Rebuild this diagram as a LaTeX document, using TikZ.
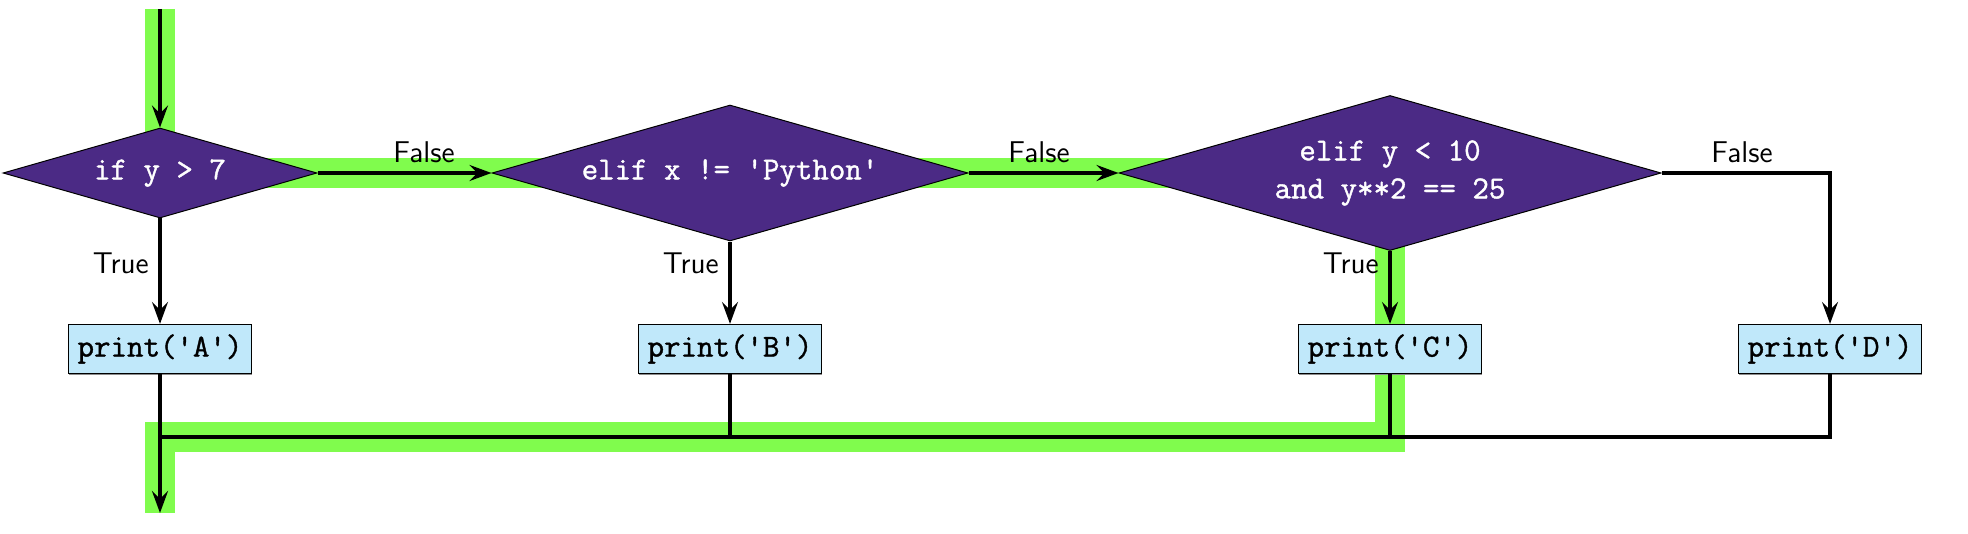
\documentclass[tikz,border=0pt]{standalone}
\usepackage{fontspec}
\usetikzlibrary{shapes.geometric,arrows.meta,backgrounds,shadows}
\newfontfamily\codefont[Ligatures=TeXOff,FakeBold=1.2]{Latin Modern Mono}
\definecolor{hl}{RGB}{128,252,77}
\definecolor{decfill}{RGB}{75,42,133}
\definecolor{actfill}{RGB}{192,232,250}
\begin{document}
\begin{tikzpicture}[x=0.5pt,y=-0.5pt,
  decision/.style={shape=diamond, draw=black, line width=0.5pt, fill=decfill, text=white,
    inner sep=0pt, aspect=3.5, align=center, font=\codefont\fontsize{16}{19}\selectfont},
  action/.style={draw=black, line width=0.6pt, fill=actfill, minimum height=24.5pt,
    inner xsep=4.5pt, inner ysep=0pt, font=\codefont\fontsize{16}{19}\selectfont,
    drop shadow={shadow xshift=0.4pt, shadow yshift=-0.6pt, fill=black!45, opacity=1}},
  flow/.style={line width=1.6pt, -{Stealth[length=11pt,width=8pt,inset=4pt]}},
  plain/.style={line width=1.6pt},
  lbl/.style={font=\sffamily\fontsize{15}{18}\selectfont, inner sep=0pt},
  highlight/.style={line width=15pt, draw=hl, line join=miter, line cap=butt}]
\useasboundingbox (0,0) rectangle (1968,534);

% decisions
\node[decision, minimum width=157pt, minimum height=45pt] (d1) at (160,173) {if y > 7};
\node[decision, minimum width=238pt, minimum height=68pt] (d2) at (730,173) {elif x != 'Python'};
\node[decision, minimum width=271pt, minimum height=77.5pt] (d3) at (1390,173) {elif y < 10\\and y**2 == 25};

% actions
\node[action] (pa) at (160,349) {print('A')};
\node[action] (pb) at (730,349) {print('B')};
\node[action] (pc) at (1390,349) {print('C')};
\node[action] (pd) at (1830,349) {print('D')};

% coordinates
\coordinate (start) at (160,9);
\coordinate (end) at (160,513);
\coordinate (jA) at (160,437);
\coordinate (jB) at (730,437);
\coordinate (jC) at (1390,437);
\coordinate (jD) at (1830,437);

% highlight
\begin{scope}[on background layer]
  \draw[highlight] (start) -- (d1.center) -- (d3.center) -- (jC) -- (jA) -- (end);
\end{scope}

% connectors
\draw[flow] (start) -- (d1.north);
\draw[flow] (d1.east) -- (d2.west);
\draw[flow] (d2.east) -- (d3.west);
\draw[flow] (d3.east) -| (pd.north);
\draw[flow] (d1.south) -- (pa.north);
\draw[flow] (d2.south) -- (pb.north);
\draw[flow] (d3.south) -- (pc.north);
\draw[flow] (pa.south) -- (end);
\draw[plain] (pb.south) -- (jB);
\draw[plain] (pc.south) -- (jC);
\draw[plain] (pd.south) -- (jD) -- (jA);

% labels
\node[lbl, anchor=base] (f1) at (424,163) {False};
\node[lbl, anchor=base] (f2) at (1039,163) {False};
\node[lbl, anchor=base] (f3) at (1742,163) {False};
\node[lbl, anchor=base east] (t1) at (149,273) {True};
\node[lbl, anchor=base east] (t2) at (719,273) {True};
\node[lbl, anchor=base east] (t3) at (1379,273) {True};
\end{tikzpicture}
\end{document}
